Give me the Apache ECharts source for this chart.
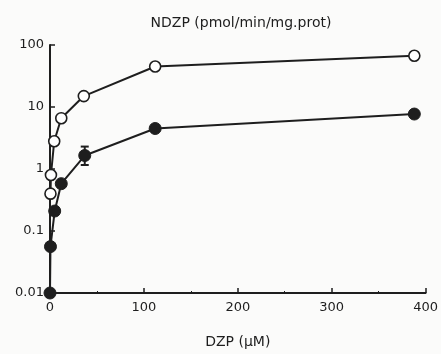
<!DOCTYPE html>
<html>
<head>
<meta charset="utf-8">
<script src="https://cdn.jsdelivr.net/npm/echarts@6/dist/echarts.min.js"></script>
<style>
  html, body { margin: 0; padding: 0; background: #fbfbfa; }
  #chart { width: 441px; height: 354px; }
</style>
</head>
<body>
<div id="chart"></div>
<script>
// DZP concentration (uM) and NDZP formation (pmol/min/mg.prot)
const openDzp = [0.5, 1, 4.5, 12, 36, 112, 388];
const openNdzp = [0.4, 0.8, 2.8, 6.6, 15, 45, 67];

const filledDzp = [0, 0.5, 5, 12, 37, 112, 388];
const filledNdzp = [0.01, 0.056, 0.21, 0.58, 1.65, 4.5, 7.7];

// error bar on the filled series
const errDzp = [37];
const errLow = [1.16];
const errHigh = [2.3];

const xTicks = [0, 100, 200, 300, 400];
const yTicks = [0.01, 0.1, 1, 10, 100];

const ink = "#1e1e1e";
const font = "DejaVu Sans";

document.addEventListener("DOMContentLoaded", function () {
  const chart = echarts.init(document.getElementById("chart"));

  const zip = (xs, ys) => xs.map((x, i) => [x, ys[i]]);

  const option = {
    animation: false,
    backgroundColor: "#fbfbfa",
    title: {
      text: "NDZP (pmol/min/mg.prot)",
      left: 236,
      textAlign: "center",
      top: 11,
      textStyle: { fontFamily: font, fontSize: 14, fontWeight: "normal", color: ink },
    },
    grid: { left: 50, right: 14, top: 45, bottom: 57 },
    xAxis: {
      type: "value",
      min: xTicks[0],
      max: xTicks[xTicks.length - 1],
      interval: 100,
      name: "DZP (μM)",
      nameLocation: "middle",
      nameGap: 42,
      nameTextStyle: { fontFamily: font, fontSize: 14, color: ink },
      axisLine: { show: true, lineStyle: { color: ink, width: 2 } },
      axisTick: { show: true, inside: true, length: 5, lineStyle: { color: ink, width: 1.5 } },
      minorTick: { show: true, splitNumber: 2, length: 2, lineStyle: { color: ink, width: 1 } },
      splitLine: { show: false },
      axisLabel: { fontFamily: font, fontSize: 13, color: ink, margin: 8 },
    },
    yAxis: {
      type: "log",
      logBase: 10,
      min: yTicks[0],
      max: yTicks[yTicks.length - 1],
      axisLine: { show: true, lineStyle: { color: ink, width: 2 } },
      axisTick: { show: true, inside: true, length: 5, lineStyle: { color: ink, width: 1.5 } },
      splitLine: { show: false },
      axisLabel: {
        fontFamily: font,
        fontSize: 13,
        color: ink,
        margin: 6,
        formatter: function (v) {
          return String(Number(v.toPrecision(3)));
        },
      },
    },
    series: [
      {
        name: "error",
        type: "custom",
        data: errDzp.map((x, i) => [x, errLow[i], errHigh[i]]),
        renderItem: function (params, api) {
          const lo = api.coord([api.value(0), api.value(1)]);
          const hi = api.coord([api.value(0), api.value(2)]);
          const w = 4;
          const style = { stroke: ink, lineWidth: 2 };
          return {
            type: "group",
            children: [
              { type: "line", shape: { x1: lo[0], y1: lo[1], x2: hi[0], y2: hi[1] }, style },
              { type: "line", shape: { x1: lo[0] - w, y1: lo[1], x2: lo[0] + w, y2: lo[1] }, style },
              { type: "line", shape: { x1: hi[0] - w, y1: hi[1], x2: hi[0] + w, y2: hi[1] }, style },
            ],
          };
        },
        z: 1,
      },
      {
        name: "filled",
        type: "line",
        data: zip(filledDzp, filledNdzp),
        symbol: "circle",
        symbolSize: 12,
        showAllSymbol: true,
        lineStyle: { color: ink, width: 2 },
        itemStyle: { color: ink, borderColor: ink, borderWidth: 1 },
        z: 3,
      },
      {
        name: "open",
        type: "line",
        data: zip(openDzp, openNdzp),
        symbol: "circle",
        symbolSize: 11,
        showAllSymbol: true,
        lineStyle: { color: ink, width: 2 },
        itemStyle: { color: "#ffffff", borderColor: ink, borderWidth: 1.6 },
        z: 4,
      },
    ],
  };

  chart.setOption(option);
});
</script>
</body>
</html>
